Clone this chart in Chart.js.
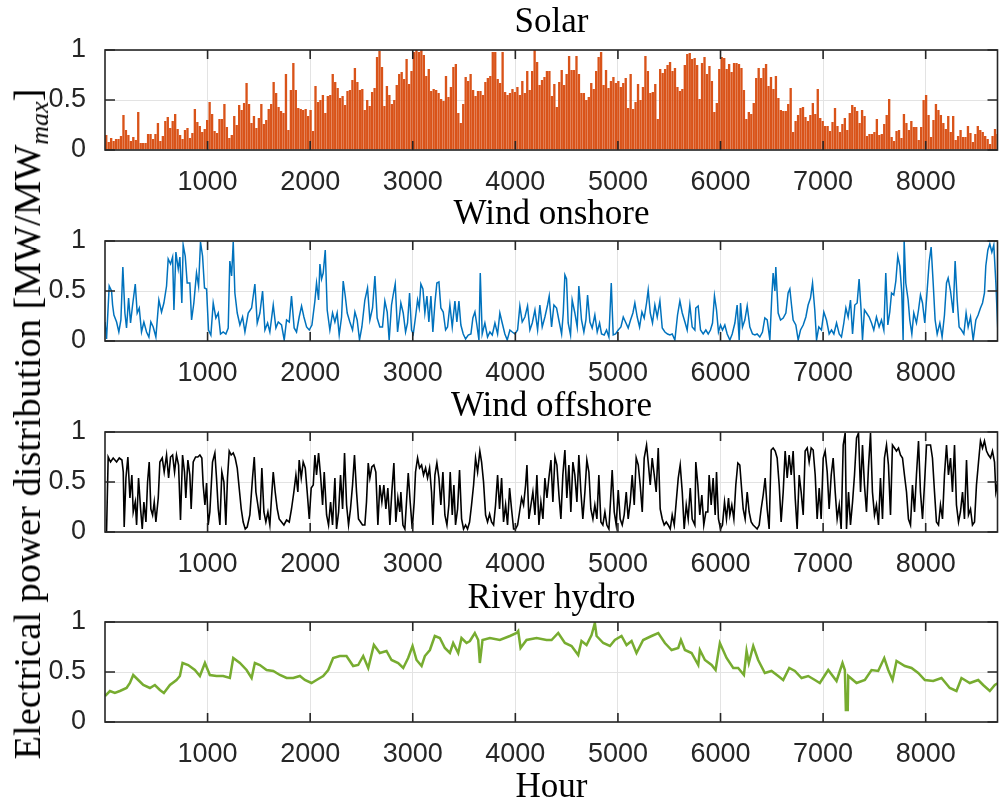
<!DOCTYPE html>
<html>
<head>
<meta charset="utf-8">
<script src="https://cdn.jsdelivr.net/npm/chart.js@4.4.1/dist/chart.umd.min.js"></script>
<style>
  html, body { margin: 0; padding: 0; background: #fff; }
  #fig { position: relative; width: 999px; height: 801px; overflow: hidden; background: #fff; }
  .cv { position: absolute; left: 0; width: 999px; height: 172px; }
  .ttl { position: absolute; left: 105px; width: 893px; text-align: center; font-family: 'Liberation Serif', 'DejaVu Serif', serif; font-size: 35px; line-height: 40px; color: #000; white-space: nowrap; }
  #ylab { position: absolute; left: 27px; top: 424px; transform: translate(-50%, -50%) rotate(-90deg); font-family: 'Liberation Serif', 'DejaVu Serif', serif; font-size: 38.5px; line-height: 42px; color: #000; white-space: nowrap; }
  #ylab sub { font-size: 26px; font-style: italic; vertical-align: -8px; line-height: 0; }
</style>
</head>
<body>
<div id="fig">
  <canvas id="c0" class="cv" width="999" height="172" style="top:38px"></canvas>
  <canvas id="c1" class="cv" width="999" height="172" style="top:229px"></canvas>
  <canvas id="c2" class="cv" width="999" height="172" style="top:420px"></canvas>
  <canvas id="c3" class="cv" width="999" height="172" style="top:610px"></canvas>
  <div class="ttl" style="top:1px">Solar</div>
  <div class="ttl" style="top:193px">Wind onshore</div>
  <div class="ttl" style="top:385px">Wind offshore</div>
  <div class="ttl" style="top:577px">River hydro</div>
  <div class="ttl" style="top:766px">Hour</div>
  <div id="ylab">Electrical power distribution [MW/MW<sub>max</sub>]</div>
</div>
<script>
// x axis ticks (hours) and y axis ticks (per unit)
const xTickValues = [1000, 2000, 3000, 4000, 5000, 6000, 7000, 8000];
const yTickValues = [0, 0.5, 1];

// solar: daily peak of the normalised output, one value per day
const solarPeak = [
  0.15,0.08,0.12,0.09,0.11,0.11,0.14,0.35,0.2,0.15,0.09,0.13,0.1,0.38,0.07,0.07,0.07,0.16,0.16,0.11,
  0.16,0.27,0.09,0.14,0.29,0.33,0.22,0.29,0.36,0.21,0.15,0.11,0.2,0.22,0.12,0.17,0.41,0.28,0.24,0.18,
  0.21,0.3,0.48,0.36,0.19,0.17,0.31,0.31,0.46,0.23,0.12,0.15,0.34,0.25,0.45,0.4,0.47,0.67,0.46,0.27,
  0.34,0.22,0.32,0.46,0.26,0.3,0.41,0.46,0.68,0.57,0.43,0.39,0.37,0.76,0.2,0.6,0.87,0.6,0.42,0.41,
  0.4,0.41,0.34,0.4,0.19,0.64,0.48,0.5,0.55,0.37,0.54,0.55,0.76,0.68,0.62,0.52,0.54,0.45,0.59,0.6,
  0.7,0.82,0.68,0.6,0.61,0.4,0.5,0.44,0.58,0.62,0.93,0.99,0.83,0.44,0.64,0.55,0.46,0.5,0.65,0.76,
  0.78,0.71,0.91,0.66,0.79,0.98,1.0,0.98,1.0,0.95,0.74,0.81,0.59,0.61,0.6,0.57,0.51,0.49,0.74,0.53,
  0.63,0.83,0.86,0.37,0.27,0.46,0.73,0.69,0.76,0.6,0.54,0.59,0.59,0.55,0.68,0.72,0.74,0.98,0.98,0.71,
  0.67,0.98,0.58,0.55,0.57,0.61,0.58,0.63,0.55,0.69,0.57,0.79,0.6,0.79,1.0,0.88,0.65,0.7,0.73,0.79,
  0.79,
  0.54,0.66,0.43,0.68,0.8,0.65,0.76,0.94,0.8,0.8,0.94,0.76,0.57,0.57,0.5,0.53,0.67,0.61,0.79,0.93,
  0.98,0.65,0.8,0.62,0.69,0.73,0.67,0.69,0.63,0.67,0.72,0.42,0.76,0.41,0.48,0.66,0.5,0.63,0.94,0.79,
  0.57,0.58,0.66,0.31,0.81,0.77,0.81,0.85,0.88,0.79,0.82,0.63,0.59,0.61,0.85,0.96,0.97,0.91,0.92,0.85,
  0.51,0.87,0.93,0.76,0.84,0.69,0.38,0.47,0.81,0.93,0.92,0.81,0.86,0.78,0.87,0.87,0.86,0.82,0.6,0.31,
  0.38,0.36,0.47,0.72,0.82,0.72,0.82,0.86,0.64,0.73,0.61,0.74,0.52,0.4,0.39,0.39,0.46,0.62,0.18,0.29,
  0.35,0.42,0.43,0.33,0.29,0.35,0.47,0.36,0.61,0.32,0.29,0.24,0.24,0.19,0.28,0.42,0.24,0.18,0.26,0.32,
  0.2,0.37,0.45,0.43,0.39,0.27,0.4,0.34,0.14,0.16,0.16,0.18,0.31,0.15,0.16,0.26,0.35,0.51,0.13,0.09,
  0.19,0.2,0.12,0.36,0.27,0.2,0.29,0.23,0.23,0.1,0.23,0.5,0.55,0.35,0.13,0.3,0.46,0.4,0.35,0.27,
  0.21,0.34,0.18,0.34,0.1,0.14,0.2,0.13,0.13,0.24,0.17,0.08,0.16,0.24,0.2,0.18,0.14,0.11,0.06,0.14,
  0.21,0.16,0.13
];

// wind onshore: [hour, value] samples
const onshore = [
  [0,0.19],[15,0.02],[41,0.55],[64,0.5],[74,0.36],[87,0.26],[113,0.19],[135,0.09],[155,0.21],[174,0.74],
  [194,0.28],[210,0.13],[230,0.43],[249,0.18],[269,0.36],[295,0.57],[314,0.28],[334,0.33],[356,0.09],[379,0.19],
  [405,0.09],[428,0.04],[447,0.19],[470,0.14],[496,0.04],[525,0.41],[551,0.29],[574,0.38],[600,0.55],[616,0.82],
  [639,0.77],[659,0.84],[672,0.31],[691,0.89],[714,0.72],[730,0.84],[749,0.38],[762,0.96],[782,0.85],[801,0.58],
  [827,0.58],[844,0.21],[866,0.38],[892,0.68],[912,0.55],[931,0.99],[951,0.85],[970,0.53],[990,0.52],[1009,0.11],
  [1032,0.06],[1055,0.38],[1081,0.23],[1104,0.28],[1126,0.07],[1152,0.09],[1178,0.07],[1201,0.13],[1217,0.8],[1234,0.65],
  [1250,0.99],[1266,0.48],[1289,0.28],[1315,0.16],[1341,0.24],[1364,0.09],[1396,0.28],[1429,0.33],[1461,0.57],[1484,0.18],
  [1510,0.28],[1536,0.5],[1559,0.11],[1585,0.18],[1607,0.09],[1640,0.36],[1666,0.13],[1689,0.19],[1721,0.16],[1747,0.01],
  [1770,0.21],[1796,0.19],[1818,0.45],[1844,0.13],[1867,0.09],[1893,0.24],[1916,0.35],[1939,0.24],[1965,0.14],[1991,0.11],
  [2017,0.16],[2046,0.4],[2062,0.58],[2082,0.41],[2095,0.77],[2111,0.62],[2127,0.68],[2147,0.91],[2166,0.31],[2192,0.11],
  [2218,0.28],[2241,0.19],[2263,0.28],[2283,0.06],[2306,0.24],[2322,0.6],[2342,0.45],[2361,0.28],[2387,0.19],[2413,0.11],
  [2436,0.29],[2458,0.21],[2481,0.01],[2504,0.14],[2533,0.41],[2559,0.53],[2582,0.21],[2608,0.33],[2631,0.65],[2653,0.23],
  [2679,0.14],[2705,0.14],[2728,0.4],[2751,0.29],[2770,0.01],[2793,0.36],[2809,0.46],[2829,0.57],[2852,0.09],[2874,0.28],
  [2884,0.38],[2907,0.28],[2930,0.09],[2949,0.18],[2969,0.48],[2988,0.11],[3005,0.07],[3027,0.24],[3047,0.41],[3063,0.33],
  [3079,0.57],[3099,0.52],[3118,0.28],[3138,0.45],[3157,0.19],[3177,0.45],[3196,0.09],[3216,0.38],[3235,0.58],[3255,0.59],
  [3274,0.33],[3297,0.29],[3320,0.11],[3339,0.14],[3362,0.36],[3385,0.14],[3411,0.4],[3430,0.19],[3450,0.4],[3469,0.16],
  [3492,0.07],[3515,0.02],[3541,0.06],[3567,0.07],[3586,0.23],[3606,0.29],[3625,0.16],[3645,0.01],[3658,0.68],[3677,0.07],
  [3703,0.18],[3729,0.04],[3752,0.09],[3775,0.06],[3801,0.18],[3827,0.07],[3849,0.28],[3872,0.18],[3898,0.07],[3921,0.01],
  [3947,0.11],[3970,0.09],[3996,0.07],[4022,0.11],[4044,0.35],[4067,0.19],[4093,0.24],[4119,0.35],[4142,0.11],[4165,0.18],
  [4191,0.31],[4217,0.11],[4239,0.36],[4262,0.14],[4288,0.24],[4314,0.36],[4330,0.45],[4353,0.14],[4376,0.36],[4402,0.33],
  [4424,0.21],[4451,0.07],[4467,0.28],[4483,0.66],[4499,0.62],[4515,0.18],[4538,0.06],[4554,0.41],[4580,0.28],[4603,0.14],
  [4619,0.55],[4645,0.21],[4668,0.09],[4688,0.21],[4704,0.46],[4727,0.19],[4749,0.13],[4775,0.26],[4798,0.09],[4821,0.18],
  [4840,0.07],[4866,0.06],[4889,0.11],[4912,0.04],[4935,0.58],[4954,0.06],[4977,0.07],[5003,0.11],[5029,0.14],[5052,0.24],
  [5074,0.19],[5100,0.13],[5123,0.21],[5146,0.28],[5165,0.38],[5188,0.24],[5211,0.14],[5234,0.29],[5256,0.23],[5279,0.38],
  [5295,0.51],[5315,0.28],[5337,0.18],[5360,0.36],[5383,0.24],[5409,0.4],[5432,0.13],[5458,0.09],[5484,0.07],[5506,0.06],
  [5529,0.07],[5555,0.01],[5581,0.26],[5604,0.4],[5627,0.28],[5653,0.19],[5675,0.11],[5701,0.36],[5724,0.14],[5750,0.11],
  [5759,0.33],[5782,0.35],[5805,0.11],[5831,0.07],[5857,0.11],[5880,0.07],[5902,0.11],[5922,0.18],[5941,0.45],[5961,0.31],
  [5980,0.09],[6000,0.16],[6019,0.11],[6042,0.16],[6065,0.07],[6091,0.01],[6114,0.07],[6140,0.18],[6162,0.36],[6182,0.01],
  [6195,0.38],[6214,0.14],[6237,0.21],[6260,0.35],[6286,0.14],[6312,0.07],[6335,0.06],[6357,0.07],[6383,0.04],[6409,0.09],
  [6432,0.23],[6455,0.21],[6481,0.01],[6500,0.45],[6513,0.68],[6530,0.5],[6539,0.74],[6562,0.28],[6585,0.21],[6611,0.23],
  [6637,0.28],[6659,0.48],[6676,0.52],[6692,0.36],[6708,0.21],[6734,0.16],[6757,0.01],[6780,0.11],[6806,0.16],[6832,0.24],
  [6854,0.36],[6877,0.43],[6897,0.58],[6919,0.31],[6936,0.01],[6958,0.14],[6984,0.11],[7007,0.29],[7033,0.21],[7059,0.07],
  [7082,0.11],[7105,0.07],[7131,0.18],[7157,0.07],[7179,0.04],[7202,0.18],[7222,0.33],[7244,0.24],[7267,0.41],[7287,0.07],
  [7309,0.36],[7332,0.38],[7351,0.62],[7368,0.35],[7384,0.01],[7403,0.31],[7423,0.28],[7449,0.24],[7472,0.18],[7494,0.11],
  [7520,0.24],[7546,0.14],[7569,0.21],[7592,0.11],[7611,0.68],[7631,0.16],[7650,0.29],[7667,0.48],[7689,0.46],[7709,0.6],
  [7728,0.85],[7748,0.75],[7767,0.48],[7780,0.01],[7790,1.0],[7806,0.58],[7829,0.41],[7845,0.21],[7865,0.07],[7884,0.28],
  [7910,0.18],[7930,0.31],[7949,0.46],[7969,0.38],[7991,0.18],[8014,0.5],[8034,0.79],[8053,0.94],[8073,0.58],[8092,0.21],
  [8112,0.07],[8138,0.18],[8160,0.04],[8183,0.26],[8203,0.58],[8219,0.63],[8242,0.5],[8268,0.28],[8287,0.8],[8307,0.41],
  [8326,0.14],[8349,0.11],[8372,0.07],[8394,0.28],[8414,0.14],[8437,0.24],[8463,0.01],[8489,0.21],[8511,0.26],[8534,0.33],
  [8554,0.38],[8573,0.48],[8586,0.75],[8606,0.91],[8625,0.97],[8645,0.89],[8664,0.96],[8684,0.58],[8703,0.11]
];

// wind offshore: [hour, value]
const offshore = [
  [15,0],[31,0.75],[54,0.7],[80,0.74],[113,0.7],[139,0.74],[165,0.72],[178,0.6],[187,0.05],[204,0.54],
  [223,0.75],[243,0.34],[262,0.57],[275,0.2],[295,0.3],[308,0.07],[327,0.54],[347,0.23],[363,0.03],[379,0.3],
  [399,0.1],[415,0.5],[431,0.7],[447,0.23],[464,0.17],[480,0.3],[496,0.1],[519,0.34],[535,0.7],[558,0.74],
  [577,0.6],[600,0.77],[620,0.54],[639,0.75],[659,0.77],[678,0.6],[697,0.77],[717,0.67],[736,0.12],[756,0.77],
  [775,0.6],[788,0.34],[808,0.72],[827,0.57],[840,0.23],[860,0.7],[883,0.75],[905,0.75],[925,0.77],[944,0.74],
  [957,0.47],[974,0.27],[990,0.49],[1006,0.07],[1022,0.2],[1048,0.7],[1071,0.79],[1087,0.54],[1104,0.23],[1120,0.07],
  [1139,0.6],[1159,0.5],[1178,0.07],[1194,0.54],[1211,0.81],[1230,0.77],[1250,0.79],[1269,0.74],[1289,0.64],[1308,0.44],
  [1328,0.23],[1347,0.1],[1367,0.03],[1386,0.05],[1412,0.17],[1438,0.54],[1455,0.75],[1471,0.4],[1490,0.27],[1510,0.12],
  [1529,0.64],[1549,0.2],[1568,0.1],[1588,0.2],[1607,0.07],[1623,0.34],[1640,0.6],[1659,0.4],[1679,0.23],[1698,0.13],
  [1721,0.1],[1744,0.07],[1770,0.12],[1796,0.1],[1818,0.23],[1841,0.4],[1861,0.57],[1880,0.4],[1893,0.72],[1913,0.54],
  [1932,0.7],[1952,0.64],[1971,0.4],[1991,0.13],[2010,0.44],[2030,0.47],[2046,0.77],[2062,0.57],[2082,0.79],[2101,0.57],
  [2121,0.27],[2137,0.6],[2160,0.17],[2179,0.07],[2199,0.3],[2218,0.07],[2241,0.54],[2257,0.03],[2277,0.2],[2296,0.57],
  [2316,0.23],[2335,0.79],[2355,0.27],[2374,0.07],[2393,0.23],[2413,0.47],[2432,0.77],[2452,0.4],[2471,0.13],[2491,0.1],
  [2510,0.07],[2533,0.07],[2549,0.3],[2566,0.69],[2582,0.54],[2601,0.65],[2621,0.67],[2640,0.6],[2660,0.07],[2679,0.47],
  [2699,0.3],[2718,0.47],[2738,0.23],[2757,0.44],[2777,0.07],[2796,0.4],[2816,0.69],[2835,0.1],[2855,0.34],[2874,0.2],
  [2884,0.4],[2904,0.07],[2923,0.03],[2943,0.37],[2956,0.59],[2975,0.3],[2995,0.03],[3014,0.3],[3027,0.6],[3047,0.74],
  [3066,0.64],[3086,0.67],[3105,0.57],[3125,0.64],[3144,0.54],[3164,0.64],[3183,0.4],[3196,0.07],[3216,0.57],[3235,0.69],
  [3255,0.54],[3274,0.27],[3294,0.6],[3313,0.17],[3333,0.07],[3352,0.27],[3365,0.6],[3385,0.17],[3401,0.47],[3417,0.07],
  [3437,0.23],[3456,0.62],[3476,0.13],[3495,0.03],[3515,0.07],[3534,0.03],[3554,0.1],[3573,0.27],[3593,0.47],[3612,0.74],
  [3632,0.6],[3654,0.81],[3671,0.7],[3690,0.5],[3710,0.17],[3729,0.1],[3749,0.18],[3768,0.1],[3788,0.07],[3807,0.27],
  [3827,0.57],[3846,0.23],[3866,0.54],[3885,0.1],[3905,0.27],[3924,0.07],[3944,0.44],[3963,0.23],[3983,0.03],[4002,0.03],
  [4022,0.07],[4041,0.2],[4061,0.34],[4080,0.27],[4100,0.47],[4113,0.67],[4132,0.13],[4152,0.27],[4171,0.4],[4191,0.17],
  [4210,0.57],[4230,0.07],[4249,0.3],[4269,0.13],[4288,0.54],[4308,0.34],[4327,0.54],[4347,0.72],[4366,0.3],[4386,0.75],
  [4405,0.67],[4425,0.37],[4444,0.13],[4463,0.57],[4483,0.82],[4502,0.34],[4522,0.67],[4541,0.2],[4561,0.7],[4580,0.57],
  [4600,0.3],[4619,0.77],[4639,0.4],[4658,0.13],[4678,0.4],[4697,0.72],[4717,0.6],[4736,0.23],[4756,0.13],[4775,0.27],
  [4795,0.13],[4814,0.57],[4834,0.1],[4853,0.07],[4873,0.2],[4892,0.07],[4912,0.03],[4931,0.37],[4944,0.62],[4964,0.2],
  [4983,0.07],[5003,0.42],[5022,0.13],[5042,0.07],[5061,0.17],[5081,0.4],[5100,0.13],[5120,0.3],[5139,0.57],[5159,0.27],
  [5178,0.74],[5198,0.67],[5217,0.47],[5237,0.2],[5256,0.74],[5279,0.87],[5295,0.7],[5315,0.47],[5334,0.74],[5354,0.57],
  [5373,0.4],[5393,0.84],[5412,0.23],[5432,0.13],[5451,0.07],[5471,0.1],[5490,0.07],[5510,0.03],[5529,0.17],[5549,0.07],
  [5568,0.3],[5588,0.54],[5607,0.67],[5627,0.4],[5646,0.03],[5666,0.27],[5685,0.13],[5705,0.44],[5724,0.13],[5750,0.07],
  [5759,0.7],[5779,0.47],[5798,0.17],[5818,0.37],[5837,0.07],[5857,0.2],[5876,0.2],[5889,0.57],[5909,0.27],[5928,0.54],
  [5948,0.17],[5961,0.6],[5980,0.13],[6000,0.03],[6019,0.07],[6039,0.3],[6058,0.13],[6078,0.34],[6091,0.17],[6110,0.27],
  [6130,0.13],[6149,0.47],[6169,0.69],[6188,0.67],[6208,0.4],[6221,0.23],[6240,0.13],[6260,0.4],[6279,0.2],[6299,0.1],
  [6318,0.07],[6338,0.05],[6357,0.03],[6377,0.07],[6396,0.23],[6416,0.37],[6435,0.54],[6455,0.23],[6474,0.03],[6494,0.82],
  [6513,0.84],[6533,0.81],[6552,0.74],[6572,0.47],[6591,0.1],[6611,0.4],[6630,0.81],[6650,0.54],[6669,0.77],[6689,0.57],
  [6708,0.81],[6728,0.34],[6747,0.03],[6767,0.57],[6786,0.4],[6806,0.17],[6825,0.81],[6845,0.84],[6864,0.7],[6884,0.84],
  [6903,0.82],[6923,0.57],[6942,0.13],[6962,0.44],[6981,0.13],[7001,0.74],[7020,0.81],[7040,0.6],[7059,0.23],[7079,0.57],
  [7098,0.74],[7118,0.4],[7137,0.13],[7157,0.27],[7176,0.03],[7196,0.87],[7215,0.99],[7228,0.03],[7248,0.4],[7267,0.07],
  [7287,0.3],[7306,0.57],[7326,0.94],[7345,0.99],[7365,0.4],[7384,0.87],[7403,0.47],[7423,0.2],[7442,0.64],[7462,0.99],
  [7481,0.4],[7501,0.17],[7520,0.27],[7540,0.07],[7559,0.54],[7579,0.13],[7598,0.74],[7618,0.87],[7637,0.67],[7657,0.17],
  [7676,0.87],[7696,0.84],[7715,0.81],[7735,0.84],[7754,0.77],[7774,0.74],[7793,0.57],[7813,0.4],[7832,0.13],[7852,0.07],
  [7871,0.47],[7891,0.2],[7910,0.57],[7930,0.91],[7949,0.4],[7969,0.13],[7988,0.47],[8008,0.87],[8027,0.87],[8047,0.87],
  [8066,0.74],[8086,0.4],[8105,0.1],[8125,0.07],[8144,0.27],[8164,0.13],[8183,0.57],[8203,0.87],[8222,0.57],[8242,0.74],
  [8261,0.4],[8281,0.87],[8300,0.27],[8320,0.1],[8339,0.2],[8359,0.4],[8378,0.13],[8398,0.72],[8417,0.17],[8437,0.23],
  [8456,0.07],[8476,0.1],[8495,0.47],[8515,0.7],[8534,0.91],[8554,0.84],[8573,0.91],[8593,0.81],[8612,0.77],[8632,0.74],
  [8651,0.81],[8671,0.7],[8684,0.4],[8703,0.5]
];

// river hydro: [hour, value]
const hydro = [
  [0,0.26],[48,0.31],[96,0.29],[145,0.31],[210,0.34],[243,0.39],[275,0.47],[324,0.42],[373,0.37],[438,0.34],
  [486,0.37],[535,0.32],[574,0.29],[633,0.37],[697,0.42],[730,0.46],[756,0.59],[811,0.57],[876,0.52],[925,0.46],
  [974,0.59],[1022,0.47],[1087,0.46],[1152,0.46],[1217,0.44],[1250,0.64],[1315,0.59],[1380,0.52],[1429,0.44],[1461,0.59],
  [1510,0.57],[1575,0.52],[1640,0.51],[1705,0.47],[1770,0.44],[1835,0.44],[1900,0.46],[1948,0.42],[2013,0.39],[2062,0.42],
  [2127,0.46],[2176,0.52],[2224,0.64],[2289,0.66],[2354,0.66],[2419,0.56],[2468,0.57],[2517,0.66],[2566,0.54],[2621,0.77],
  [2679,0.69],[2744,0.71],[2793,0.62],[2858,0.59],[2907,0.54],[2955,0.64],[2998,0.76],[3037,0.62],[3086,0.56],[3118,0.66],
  [3167,0.72],[3215,0.86],[3264,0.84],[3313,0.74],[3362,0.69],[3394,0.79],[3443,0.69],[3475,0.84],[3524,0.79],[3557,0.81],
  [3605,0.89],[3638,0.82],[3654,0.59],[3680,0.82],[3752,0.84],[3849,0.82],[3947,0.86],[4012,0.89],[4028,0.91],[4051,0.74],
  [4109,0.82],[4207,0.84],[4304,0.82],[4353,0.82],[4418,0.89],[4483,0.79],[4548,0.76],[4613,0.67],[4645,0.81],[4694,0.77],
  [4743,0.87],[4775,0.99],[4792,0.86],[4857,0.79],[4922,0.76],[4970,0.82],[5035,0.86],[5084,0.77],[5133,0.81],[5181,0.69],
  [5246,0.82],[5328,0.86],[5393,0.89],[5458,0.79],[5523,0.72],[5588,0.74],[5614,0.82],[5653,0.72],[5718,0.69],[5783,0.57],
  [5799,0.72],[5848,0.62],[5913,0.57],[5952,0.52],[5994,0.79],[6059,0.64],[6124,0.54],[6172,0.54],[6228,0.47],[6254,0.71],
  [6276,0.59],[6319,0.76],[6367,0.62],[6432,0.49],[6497,0.51],[6562,0.46],[6611,0.42],[6670,0.54],[6725,0.51],[6790,0.44],
  [6855,0.46],[6920,0.42],[6968,0.39],[7050,0.52],[7131,0.41],[7189,0.59],[7212,0.52],[7222,0.12],[7240,0.12],[7245,0.46],
  [7326,0.39],[7407,0.42],[7472,0.52],[7537,0.51],[7596,0.64],[7635,0.52],[7677,0.42],[7716,0.61],[7797,0.56],[7862,0.54],
  [7927,0.49],[7992,0.42],[8073,0.41],[8154,0.44],[8235,0.34],[8300,0.31],[8349,0.44],[8430,0.39],[8512,0.42],[8560,0.37],
  [8625,0.31],[8674,0.37],[8707,0.39]
];

const axisColor = '#262626';
Chart.defaults.font.family = "'Liberation Sans', Arial, Helvetica, sans-serif";
Chart.defaults.font.size = 27;
Chart.defaults.color = axisColor;
Chart.defaults.animation = false;

// box around the axes with inward ticks on all four sides (MATLAB look)
const boxTicks = {
  id: 'boxTicks',
  afterDraw(chart) {
    const { ctx, chartArea: a, scales: { x, y } } = chart;
    ctx.save();
    ctx.strokeStyle = axisColor;
    ctx.lineWidth = 1.6;
    ctx.beginPath();
    x.ticks.forEach(t => {
      const px = x.getPixelForValue(t.value);
      ctx.moveTo(px, a.bottom); ctx.lineTo(px, a.bottom - 9);
      ctx.moveTo(px, a.top); ctx.lineTo(px, a.top + 9);
    });
    y.ticks.forEach(t => {
      const py = y.getPixelForValue(t.value);
      ctx.moveTo(a.left, py); ctx.lineTo(a.left + 10, py);
      ctx.moveTo(a.right, py); ctx.lineTo(a.right - 10, py);
    });
    ctx.stroke();
    ctx.strokeRect(a.left, a.top, a.right - a.left, a.bottom - a.top);
    ctx.restore();
  }
};

function makeAxes() {
  return {
    x: {
      type: 'linear', min: 0, max: 8700, offset: false,
      afterBuildTicks: s => { s.ticks = xTickValues.map(v => ({ value: v })); },
      afterFit: s => { s.height = 60; s.paddingLeft = 0; s.paddingRight = 0; },
      ticks: { padding: 16, maxRotation: 0, callback: v => String(v) },
      grid: { color: '#e3e3e3', lineWidth: 1, drawTicks: false, offset: false },
      border: { display: false }
    },
    y: {
      min: 0, max: 1,
      afterBuildTicks: s => { s.ticks = yTickValues.map(v => ({ value: v })); },
      afterFit: s => { s.width = 105; s.paddingTop = 0; s.paddingBottom = 0; },
      ticks: { padding: 19, callback: v => String(v) },
      grid: { color: '#e3e3e3', lineWidth: 1, drawTicks: false },
      border: { display: false }
    }
  };
}

const baseOptions = () => ({
  responsive: false,
  maintainAspectRatio: false,
  layout: { padding: { top: 12, right: 1.5, left: 0, bottom: 0 } },
  plugins: { legend: { display: false }, tooltip: { enabled: false } },
  scales: makeAxes()
});

function lineChart(id, pts, color, width) {
  new Chart(document.getElementById(id), {
    type: 'line',
    data: { datasets: [{
      data: pts.map(p => ({ x: p[0], y: p[1] })),
      borderColor: color, borderWidth: width, pointRadius: 0, tension: 0, fill: false
    }] },
    options: baseOptions(),
    plugins: [boxTicks]
  });
}

// solar: one bar per day, centred at midday
new Chart(document.getElementById('c0'), {
  type: 'bar',
  data: { datasets: [{
    data: solarPeak.map((v, i) => ({ x: i * 24 + 12, y: v })),
    backgroundColor: '#D95319', borderWidth: 0,
    barPercentage: 1, categoryPercentage: 0.95
  }] },
  options: baseOptions(),
  plugins: [boxTicks]
});

lineChart('c1', onshore, '#0072BD', 1.5);
lineChart('c2', offshore, '#000000', 1.6);
lineChart('c3', hydro, '#77AC30', 2.5);
</script>
</body>
</html>
